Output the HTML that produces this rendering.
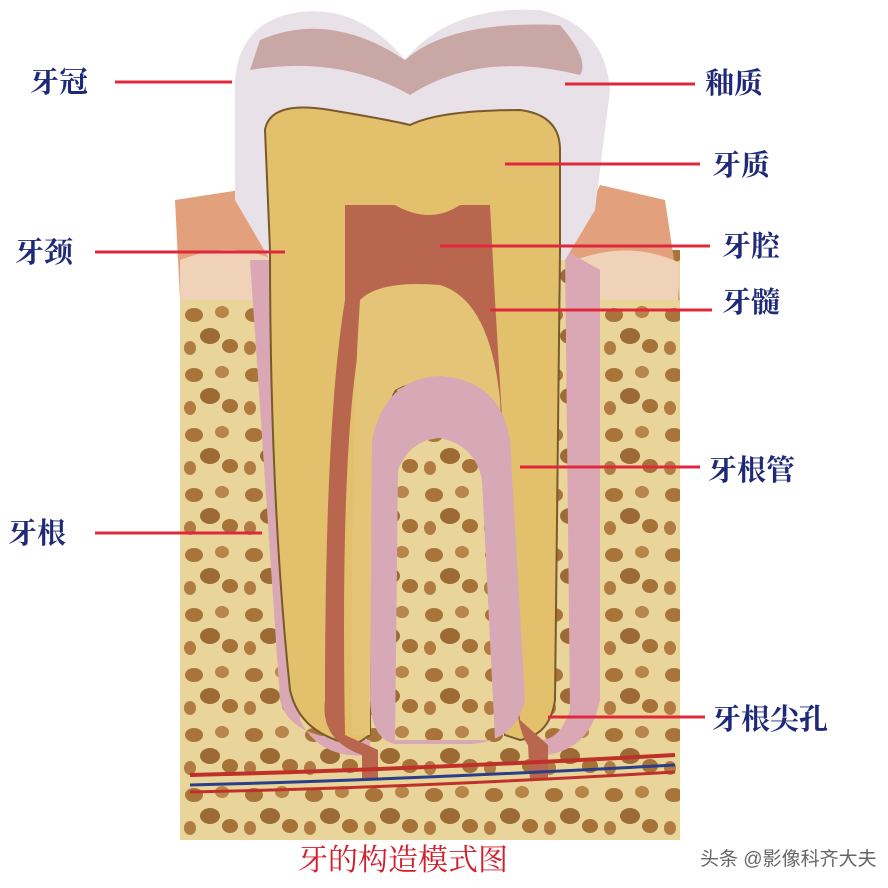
<!DOCTYPE html>
<html><head><meta charset="utf-8"><style>
html,body{margin:0;padding:0;background:#fff;}
svg{display:block}
.l{font-family:"Liberation Serif","Noto Serif CJK SC",serif;font-size:29px;fill:#1e2a78;font-weight:bold}
</style></head><body>
<svg width="888" height="888" viewBox="0 0 888 888" xmlns="http://www.w3.org/2000/svg">
<defs>
<pattern id="bone" width="60" height="60" patternUnits="userSpaceOnUse">
<rect width="60" height="60" fill="#e9d49a"/>
<ellipse cx="14" cy="15" rx="9" ry="7" fill="#a8743a"/>
<ellipse cx="42" cy="12" rx="7" ry="6" fill="#b8854a"/>
<ellipse cx="30" cy="36" rx="10" ry="8" fill="#9c6a34"/>
<ellipse cx="10" cy="48" rx="6" ry="7" fill="#b07c42"/>
<ellipse cx="50" cy="46" rx="8" ry="7" fill="#a67238"/>
</pattern>
</defs>
<rect x="180" y="250" width="500" height="590" fill="url(#bone)"/>
<path d="M175 200 L240 190 L280 250 L280 300 L180 300Z" fill="#e2a07c"/>
<path d="M570 250 L600 185 L665 200 L680 300 L570 300Z" fill="#e2a07c"/>
<path d="M180 260 Q230 240 275 260 L275 300 L180 300Z" fill="#f0d2b8"/>
<path d="M575 260 Q630 240 678 262 L678 300 L575 300Z" fill="#f0d2b8"/>
<path d="M250 260 L295 260 L300 720 Q320 760 370 755 L370 740 L530 740 L545 755 Q590 750 600 700 L600 270 L565 250 L570 710 Q560 740 540 740 L360 740 Q290 740 280 700 Z" fill="#d9a8b4"/>
<path d="M235 80 Q240 20 300 12 Q360 5 405 60 Q450 5 540 10 Q605 25 610 90 L595 210 L565 260 L270 260 L235 200 Z" fill="#e8e1e8"/>
<path d="M260 40 Q330 10 405 60 Q450 20 560 25 Q590 60 580 75 Q480 50 410 95 Q340 55 250 70Z" fill="#c9a7a5"/>
<path d="M265 130 Q270 100 330 110 Q390 120 410 125 Q440 110 520 110 Q560 115 560 150 L560 250 L555 700 Q550 735 520 740 L505 735 Q510 500 470 400 Q430 370 395 390 Q370 430 370 735 L355 745 Q300 735 290 690 Q270 500 270 250 Z" fill="#e2c06c" stroke="#7a5a2a" stroke-width="2"/>
<path d="M345 205 L395 205 Q430 225 460 205 L490 205 L495 300 L520 720 L548 745 L548 780 L530 780 L528 745 Q505 720 495 400 Q470 300 440 290 Q380 290 360 340 Q340 450 345 735 L378 750 L378 780 L362 780 L362 755 Q320 740 325 700 Q325 420 345 300Z" fill="#b8664e"/>
<path d="M360 300 Q380 280 440 285 Q490 300 500 400 Q510 600 515 720 L505 735 Q505 500 470 400 Q430 370 395 390 Q370 430 370 735 L352 735 Q350 450 360 300Z" fill="#e4c476"/>
<path d="M372 440 Q385 378 440 376 Q500 380 510 440 L525 700 Q515 742 470 744 L395 744 Q372 740 370 700Z" fill="#d7a8b6"/>
<path d="M398 470 Q410 440 440 438 Q475 445 482 480 L495 740 L395 740Z" fill="url(#bone)"/>
<path d="M190 775 Q400 770 675 755" stroke="#c0302a" stroke-width="4" fill="none"/>
<path d="M190 785 Q400 780 675 765" stroke="#2a3e8a" stroke-width="3" fill="none"/>
<path d="M190 792 Q400 788 675 772" stroke="#c0302a" stroke-width="3" fill="none"/>
<g stroke="#e0283c" stroke-width="3">
<line x1="115" y1="82" x2="232" y2="82"/>
<line x1="565" y1="84" x2="695" y2="84"/>
<line x1="505" y1="164" x2="700" y2="164"/>
<line x1="95" y1="252" x2="285" y2="252"/>
<line x1="440" y1="246" x2="710" y2="246"/>
<line x1="490" y1="310" x2="712" y2="310"/>
<line x1="520" y1="467" x2="700" y2="467"/>
<line x1="95" y1="533" x2="262" y2="533"/>
<line x1="548" y1="717" x2="705" y2="717"/>
</g>
<text class="l" x="30" y="92">牙冠</text>
<text class="l" x="705" y="93">釉质</text>
<text class="l" x="712" y="175">牙质</text>
<text class="l" x="15" y="262">牙颈</text>
<text class="l" x="722" y="256">牙腔</text>
<text class="l" x="722" y="312">牙髓</text>
<text class="l" x="708" y="480">牙根管</text>
<text class="l" x="8" y="543">牙根</text>
<text class="l" x="712" y="729">牙根尖孔</text>
<text x="298" y="870" style="font-family:'Liberation Serif','Noto Serif CJK SC',serif;font-size:30px;fill:#d0202c">牙的构造模式图</text>
<text x="700" y="865" style="font-family:'Liberation Sans','Noto Sans CJK SC',sans-serif;font-size:19px;fill:#666">头条 @影像科齐大夫</text>
</svg>
</body></html>
